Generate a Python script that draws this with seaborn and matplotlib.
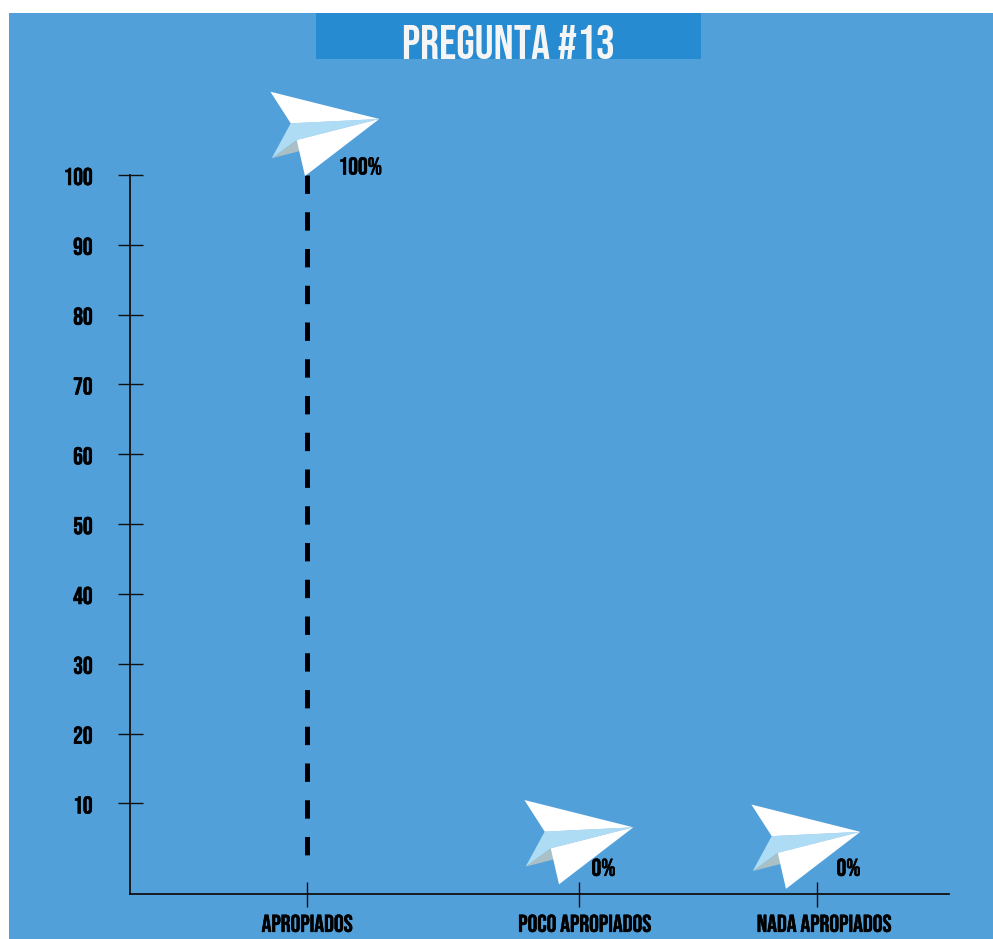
import matplotlib
matplotlib.use("Agg")
import matplotlib.pyplot as plt
import matplotlib.patheffects as pe
from matplotlib.patches import Polygon, Rectangle
from matplotlib.transforms import Affine2D, ScaledTranslation
import pandas as pd
import seaborn as sns

# Chart data
categories = ["APROPIADOS", "POCO APROPIADOS", "NADA APROPIADOS"]
percent_values = [100, 0, 0]
percent_labels = ["100%", "0%", "0%"]
y_ticks = [10, 20, 30, 40, 50, 60, 70, 80, 90, 100]
title_text = "PREGUNTA #13"

# Layout (pixels, on the 993x939 canvas)
W, H = 993, 939
axis_left, axis_right, axis_top, axis_bottom = 130, 949, 175, 894
cat_x = [177, 449, 687]              # tick positions along the x axis
label_shift = [0, 5.5, 7]            # x tick label nudges
plane_shift = [(-2, -1), (-20, -11), (-31, -15.5)]
pct_shift = [(31.5, 9), (12.5, 6), (19.5, 6)]
line_foot = 2.6                      # dashed stems stop just above the axis

BG = "#52a0da"
BAND = "#268bd0"
SKY = "#aedcf4"
SHADE = "#a9c0c6"
FONT = ["Bebas Neue", "Liberation Sans Narrow", "Liberation Sans", "DejaVu Sans"]
BOLDER = [pe.withStroke(linewidth=0.4, foreground="black")]

sns.set_theme(style="ticks")
plt.rcParams["font.family"] = FONT

fig = plt.figure(figsize=(W / 100, H / 100), dpi=100, facecolor="white")

# Blue panel and title band
fig.patches.append(Rectangle((9 / W, 0), (W - 9) / W, (H - 13) / H, transform=fig.transFigure, color=BG, lw=0, zorder=-2))
fig.patches.append(Rectangle((316 / W, (H - 59) / H), 385 / W, 46 / H, transform=fig.transFigure, color=BAND, lw=0, zorder=-1))
fig.text(508.5 / W, (H - 59) / H, title_text, color="#f5f5f5", fontsize=34, ha="center", va="baseline")

ax = fig.add_axes([axis_left / W, (H - axis_bottom) / H, (axis_right - axis_left) / W, (axis_bottom - axis_top) / H])
ax.patch.set_alpha(0)

# Dashed stems, only where there is something to draw
stems = pd.DataFrame(
    [{"cat": c, "x": x, "y": y} for c, x, v in zip(categories, cat_x, percent_values) if v > line_foot
     for y in (v, line_foot)]
)
sns.lineplot(data=stems, x="x", y="y", units="cat", estimator=None, sort=False, color="black",
             linewidth=3.6, linestyle=(0, (3.675, 3.675)), ax=ax, legend=False)

ax.set_xlim(0, axis_right - axis_left)
ax.set_ylim(-2.96, 100)
ax.set_xlabel("")
ax.set_ylabel("")
ax.set_xticks(cat_x)
ax.set_xticklabels(categories)
ax.set_yticks(y_ticks)
ax.set_yticklabels([str(t) for t in y_ticks])
ax.tick_params(axis="both", direction="inout", length=18, width=1, color="#111111", labelcolor="black", labelsize=17.5)
ax.tick_params(axis="y", pad=18)
ax.tick_params(axis="x", pad=6)
sns.despine(ax=ax)
for s in ("left", "bottom"):
    ax.spines[s].set_linewidth(1.3)
    ax.spines[s].set_color("#111111")

for lab, dx in zip(ax.get_xticklabels(), label_shift):
    lab.set_transform(lab.get_transform() + ScaledTranslation(dx / 100, 0, fig.dpi_scale_trans))
    lab.set_path_effects(BOLDER)
for lab in ax.get_yticklabels():
    lab.set_transform(lab.get_transform() + ScaledTranslation(0, -1.5 / 100, fig.dpi_scale_trans))
    lab.set_path_effects(BOLDER)

# Paper plane marker, outlined in pixels from its lower nose
top_wing = [(-34.6, 84.3), (74.3, 57), (-14.3, 52.7)]
fold = [(-14.3, 52.7), (74.3, 57), (-8.3, 36), (-33.3, 17.7)]
shade = [(-33.3, 17.7), (-8.3, 36), (-5, 25)]
low_wing = [(-8.3, 36), (74.3, 57), (0, 0)]

for x, v, pct, (px, py), (tx, ty) in zip(cat_x, percent_values, percent_labels, plane_shift, pct_shift):
    ox, oy = ax.transData.transform((x, v))
    tr = Affine2D().translate(ox + px, oy + py)
    for pts, col in ((shade, SHADE), (fold, SKY), (top_wing, "white"), (low_wing, "white")):
        ax.add_patch(Polygon(pts, closed=True, facecolor=col, edgecolor="none", transform=tr, clip_on=False, zorder=5))
    ax.annotate(pct, xy=(x, v), xytext=(tx * 0.72, ty * 0.72), textcoords="offset points",
                ha="left", va="center", fontsize=17.5, color="black", zorder=6, path_effects=BOLDER)

fig.savefig("out.png", dpi=100)
